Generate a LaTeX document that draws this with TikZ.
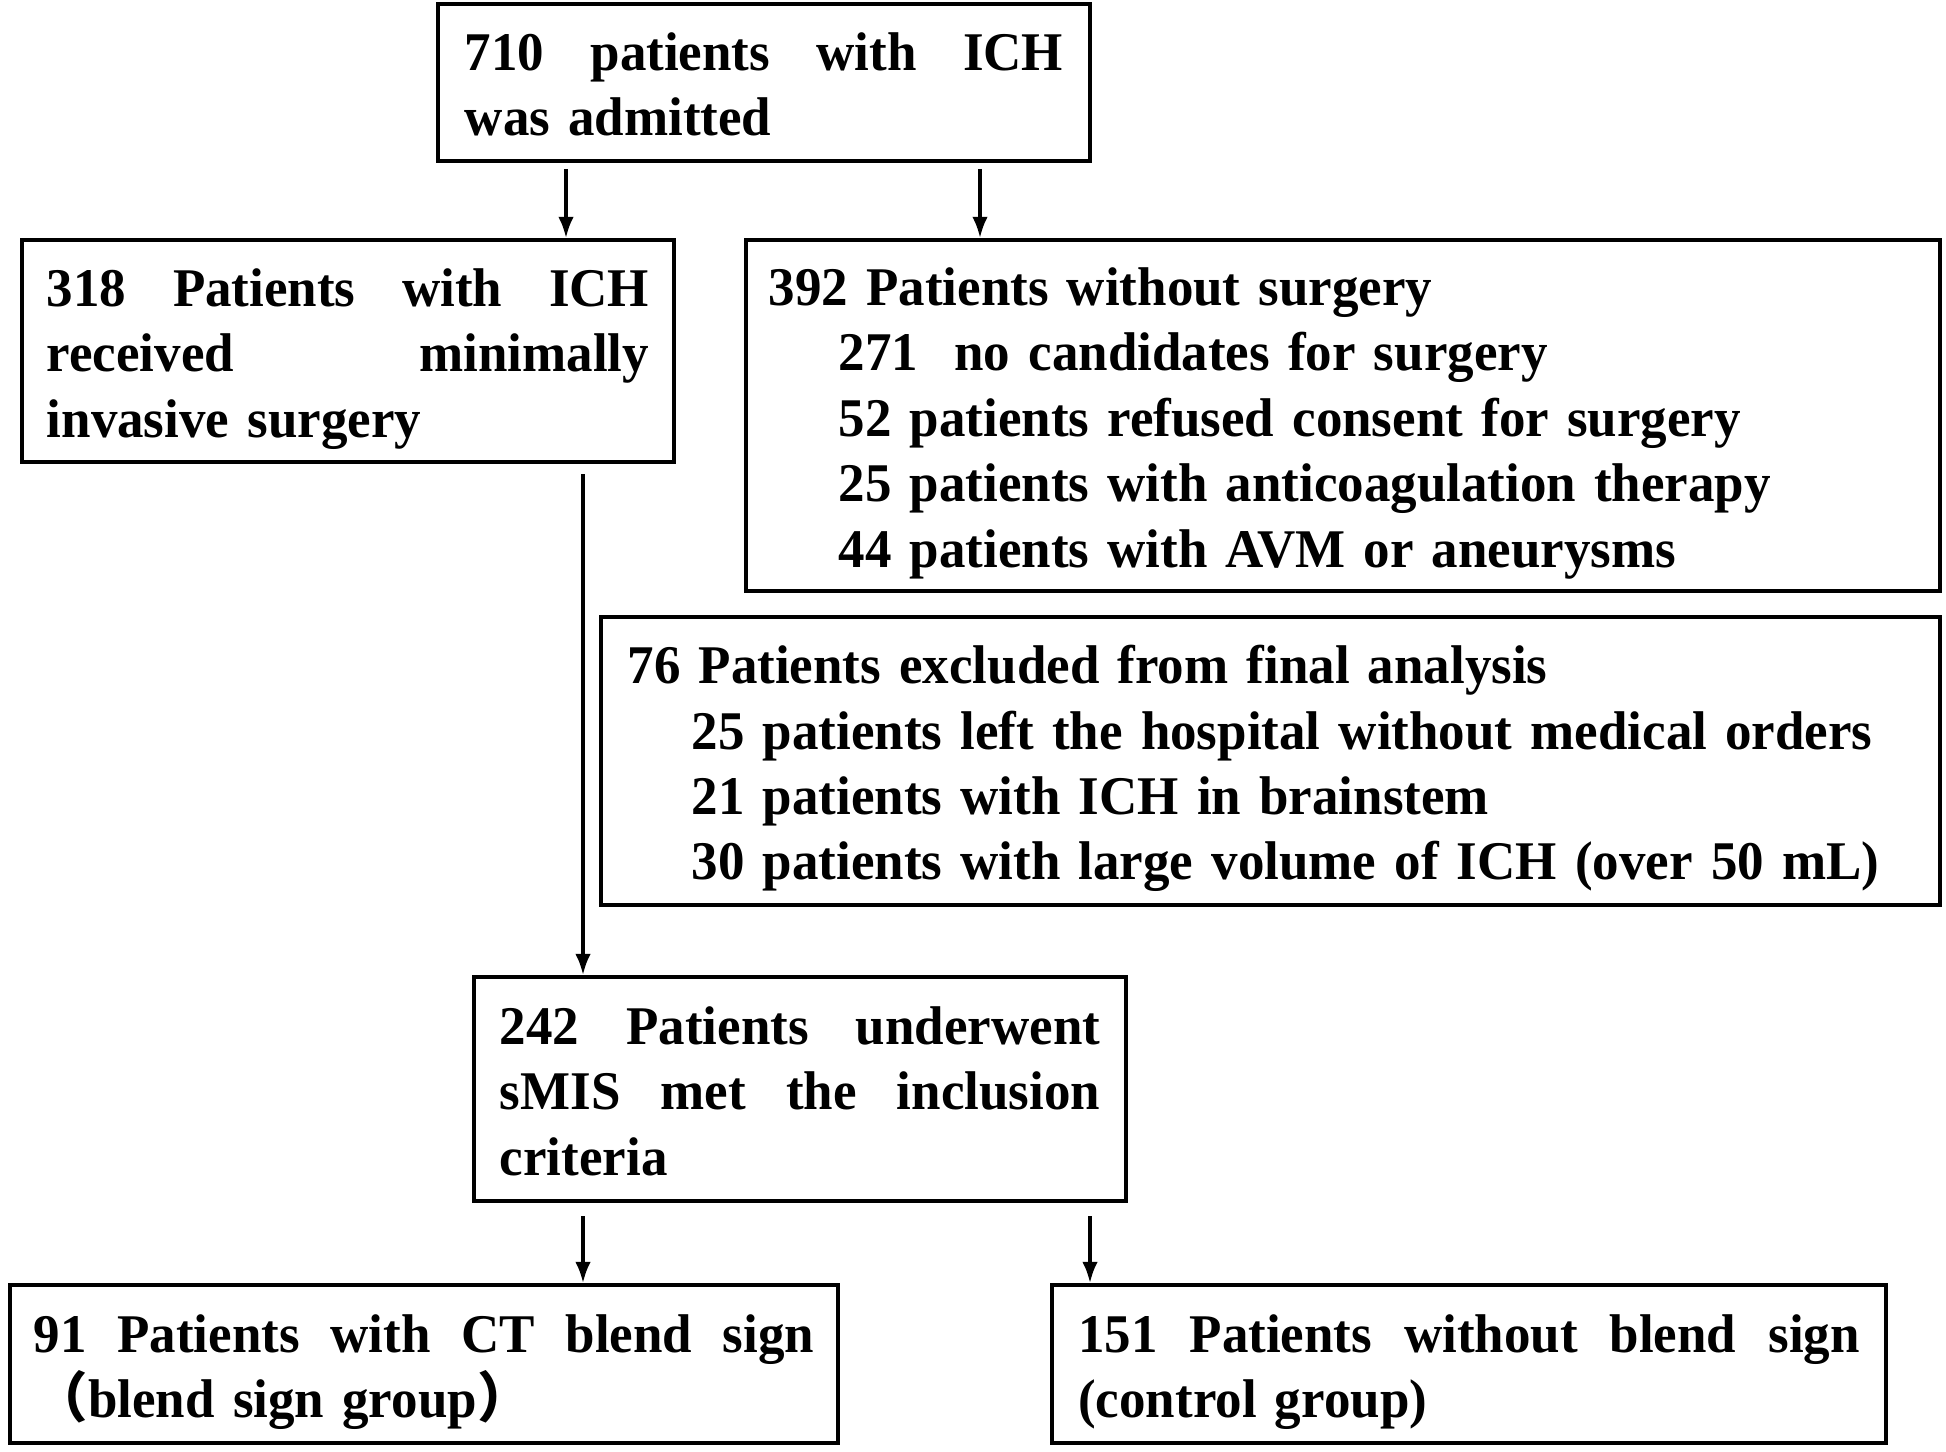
\documentclass[tikz,border=0pt]{standalone}
\usepackage{fontspec}
\setmainfont{Liberation Serif}[FakeStretch=0.972]
\newfontfamily\cjkfont{Noto Sans CJK SC}
\usetikzlibrary{arrows.meta,calc}
\newcommand\mytop{\rule{0pt}{16.8pt}}
\newcommand\mybot{\rule[-5pt]{0pt}{0pt}}
\begin{document}
\begin{tikzpicture}[x=0.01cm,y=-0.01cm,
  box/.style={draw, line width=1.1pt, rectangle, align=left, inner ysep=0pt,
    font=\bfseries\fontsize{15.5pt}{18.6pt}\selectfont},
  arr/.style={line width=0.95pt, -{Latex[length=6pt,width=4.4pt]}}]
\useasboundingbox[fill=white] (0,0) rectangle (1946,1451);

\node[box, text width=5.98cm, inner xsep=0.27cm, minimum width=6.52cm, minimum height=1.57cm] (b1) at (764,82.5)
  {\mytop 710\hfill patients\hfill with\hfill ICH\\was admitted\mybot};

\node[box, text width=6.02cm, inner xsep=0.25cm, minimum width=6.52cm, minimum height=2.22cm] (b2) at (348,351)
  {\mytop 318\hfill Patients\hfill with\hfill ICH\\received\hfill minimally\\invasive surgery\mybot};

\node[box, text width=11.48cm, inner xsep=0.23cm, minimum width=11.94cm, minimum height=3.51cm] (b3) at (1343,415.5)
  {\mytop 392 Patients without surgery\\
   \hspace*{0.7cm}271\ \ no candidates for surgery\\
   \hspace*{0.7cm}52 patients refused consent for surgery\\
   \hspace*{0.7cm}25 patients with anticoagulation therapy\\
   \hspace*{0.7cm}44 patients with AVM or aneurysms\mybot};

\node[box, text width=12.85cm, inner xsep=0.27cm, minimum width=13.39cm, minimum height=2.88cm] (b4) at (1270.5,761)
  {\mytop 76 Patients excluded from final analysis\\
   \hspace*{0.64cm}25 patients left the hospital without medical orders\\
   \hspace*{0.64cm}21 patients with ICH in brainstem\\
   \hspace*{0.64cm}30 patients with large volume of ICH (over 50 mL)\mybot};

\node[box, text width=6.0cm, inner xsep=0.26cm, minimum width=6.52cm, minimum height=2.24cm] (b5) at (800,1089)
  {\mytop 242\hfill Patients\hfill underwent\\sMIS\hfill met\hfill the\hfill inclusion\\criteria\mybot};

\node[box, text width=7.8cm, inner xsep=0.24cm, minimum width=8.28cm, minimum height=1.58cm] (b6) at (424,1364)
  {\mytop 91\hfill Patients\hfill with\hfill CT\hfill blend\hfill sign\\{\cjkfont （}blend sign group{\cjkfont ）}\mybot};

\node[box, text width=7.81cm, inner xsep=0.265cm, minimum width=8.34cm, minimum height=1.58cm] (b7) at (1469,1364)
  {\mytop 151\hfill Patients\hfill without\hfill blend\hfill sign\\(control group)\mybot};

\coordinate (xa) at (566,0);
\coordinate (xb) at (980,0);
\coordinate (xc) at (583,0);
\coordinate (xd) at (1090,0);

\draw[arr] ($(b1.south -| xa)+(0,6)$) -- (b2.north -| xa);
\draw[arr] ($(b1.south -| xb)+(0,6)$) -- (b3.north -| xb);
\draw[arr] ($(b2.south -| xc)+(0,10)$) -- (b5.north -| xc);
\draw[arr] ($(b5.south -| xc)+(0,13)$) -- (b6.north -| xc);
\draw[arr] ($(b5.south -| xd)+(0,13)$) -- (b7.north -| xd);
\end{tikzpicture}
\end{document}
